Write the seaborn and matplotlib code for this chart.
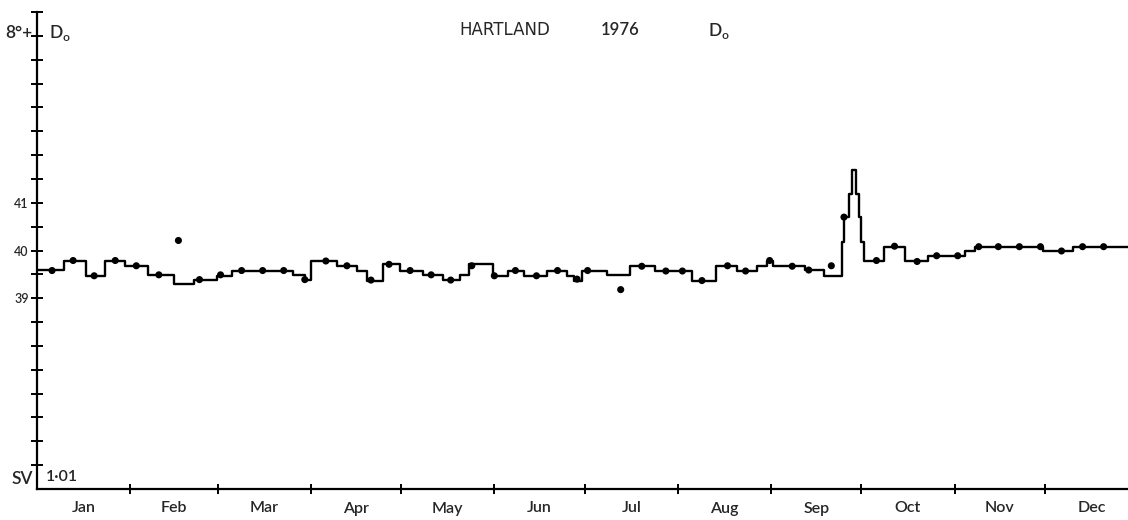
import numpy as np
import pandas as pd
import matplotlib.pyplot as plt
import seaborn as sns

# step line: day of year where each level starts, and the level
step_day = [0, 9.0, 16.3, 22.6, 29.2, 36.9, 45.5, 52.2, 59.8, 64.8, 85.1, 89.1, 91.1, 99.7,
            106.3, 109.7, 115.0, 120.6, 128.3, 134.9, 140.6, 143.6, 151.5, 156.5, 161.8,
            169.5, 176.1, 178.5, 181.1, 189.4, 197.1, 205.4, 217.7, 225.7, 232.6, 239.3,
            242.6, 244.6, 255.2, 261.5, 267.4, 268.3, 269.9, 270.8, 272.2, 273.2, 273.8,
            274.8, 281.5, 288.5, 296.1, 308.4, 311.7, 334.3, 344.3]
step_val = [39.59, 39.77, 39.47, 39.77, 39.68, 39.48, 39.29, 39.38, 39.47, 39.57, 39.49,
            39.38, 39.77, 39.68, 39.57, 39.37, 39.71, 39.57, 39.49, 39.38, 39.49, 39.71,
            39.46, 39.58, 39.47, 39.57, 39.47, 39.37, 39.57, 39.49, 39.68, 39.57, 39.37,
            39.68, 39.57, 39.67, 39.77, 39.67, 39.59, 39.47, 40.17, 40.70, 41.19, 41.68,
            41.19, 40.70, 40.17, 39.79, 40.08, 39.77, 39.89, 39.98, 40.08, 39.99, 40.08]

# spot values (dots)
dot_day = [5, 12, 19, 26, 33, 40.5, 47, 54, 61, 68, 75, 82, 89, 96, 103, 111, 117, 124,
           131, 137.5, 144.5, 152, 159, 166, 173, 179.5, 183, 194, 201, 209, 214.5, 221,
           229.5, 235.5, 243.5, 251, 256.5, 264, 268.2, 279, 285, 292.5, 299, 306, 313,
           319.5, 326.5, 333.5, 340.5, 347.5, 354.5]
dot_val = [39.58, 39.79, 39.47, 39.79, 39.68, 39.49, 40.21, 39.39, 39.49, 39.58, 39.58,
           39.58, 39.39, 39.78, 39.68, 39.38, 39.71, 39.58, 39.49, 39.38, 39.68, 39.47,
           39.58, 39.47, 39.58, 39.40, 39.58, 39.18, 39.67, 39.57, 39.57, 39.37, 39.68,
           39.57, 39.79, 39.67, 39.59, 39.68, 40.70, 39.79, 40.09, 39.77, 39.89, 39.89,
           40.08, 40.08, 40.08, 40.08, 39.99, 40.08, 40.08]

months = ['Jan', 'Feb', 'Mar', 'Apr', 'May', 'Jun', 'Jul', 'Aug', 'Sep', 'Oct', 'Nov', 'Dec']
month_len = [31, 29, 31, 30, 31, 30, 31, 31, 30, 31, 30, 31]
ytick_lab = {39.0: '39', 40.0: '40', 41.0: '41'}

sns.set_theme(style="ticks", rc={"axes.spines.right": False, "axes.spines.top": False})
plt.rcParams['font.family'] = ['Lato', 'DejaVu Sans']
plt.rcParams['font.weight'] = 'semibold'
plt.rcParams['mathtext.fontset'] = 'custom'
plt.rcParams['mathtext.rm'] = 'Lato:semibold'

W, H = 1128, 520
fig = plt.figure(figsize=(W / 100, H / 100), dpi=100)
ax = fig.add_axes([37 / W, 1 - 489 / H, 1 - 37 / W, (489 - 12) / H])

line = pd.DataFrame({'day': step_day + [366], 'D': step_val + [step_val[-1]]})
sns.lineplot(data=line, x='day', y='D', drawstyle='steps-post', color='black',
             linewidth=1.7, estimator=None, ax=ax)
sns.scatterplot(x=dot_day, y=dot_val, color='black', s=26, edgecolor='none', ax=ax, zorder=3)

ax.set_xlim(0, 362.6)
ax.set_ylim(35, 45)
ax.set_xlabel('')
ax.set_ylabel('')

bounds = np.cumsum(month_len)
ax.set_xticks(bounds[:-1])
ax.set_xticklabels([])
mid = np.concatenate([[0], bounds[:-1]]) + np.array(month_len) / 2
ax.set_xticks(mid, minor=True)
ax.set_xticklabels(months, minor=True, fontsize=11.5)
ax.tick_params(axis='x', which='minor', length=0, pad=9)
ax.tick_params(axis='x', which='major', direction='inout', length=7, width=1.4, color='black')

yt = np.arange(35.5, 45.01, 0.5)
ax.set_yticks(yt)
ax.set_yticklabels([ytick_lab.get(round(v, 1), '') for v in yt], fontsize=9)
ax.tick_params(axis='y', direction='inout', length=8, width=1.4, color='black', pad=2)

for s in ['left', 'bottom']:
    ax.spines[s].set_linewidth(1.6)
    ax.spines[s].set_color('black')

def px(x, y):
    return x / W, 1 - y / H

fig.text(*px(505, 30), 'HARTLAND', ha='center', va='center', fontsize=12, family='DejaVu Sans',
         fontweight='normal')
fig.text(*px(620, 30), '1976', ha='center', va='center', fontsize=12)
fig.text(*px(708, 31), r'D$_\mathregular{o}$', ha='left', va='center', fontsize=12.5)
fig.text(*px(32, 33), '8°+', ha='right', va='center', fontsize=12.5)
fig.text(*px(49, 33), r'D$_\mathregular{o}$', ha='left', va='center', fontsize=12.5)
fig.text(*px(33, 479), 'SV', ha='right', va='center', fontsize=12.5)
fig.text(*px(46, 477), '1·01', ha='left', va='center', fontsize=11.5)

fig.savefig('out.png', dpi=100)
